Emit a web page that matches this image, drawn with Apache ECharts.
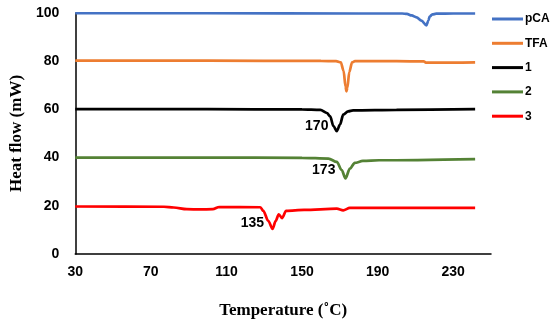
<!DOCTYPE html>
<html>
<head>
<meta charset="utf-8">
<script src="https://cdn.jsdelivr.net/npm/echarts@6/dist/echarts.min.js"></script>
<style>html,body{margin:0;padding:0;background:#fff;}#c{width:550px;height:324px;}</style>
</head>
<body>
<div id="c"></div>
<script>
var seriesNames = ['pCA', 'TFA', '1', '2', '3'];
var colors = ['#4472C4', '#ED7D31', '#000000', '#548235', '#FF0000'];
var xTicks = [30, 70, 110, 150, 190, 230];
var yTicks = [0, 20, 40, 60, 80, 100];

var pcaT = [30, 100, 180, 203, 205.5, 208, 210.6, 213.2, 215.8, 216.9, 217.5, 219, 221, 230, 241.6];
var pcaV = [99.9, 99.9, 99.8, 99.8, 99.6, 99.0, 98.2, 96.8, 94.9, 97.0, 98.5, 99.4, 99.7, 99.8, 99.8];

var tfaT = [30, 100, 160, 168, 170.5, 172, 173, 173.5, 174, 175, 176.5, 178, 200, 214.5, 215.5, 230, 241.6];
var tfaV = [80.2, 80.2, 80.1, 80.0, 79.5, 76.0, 69.5, 67.5, 69.0, 75.5, 79.5, 80.0, 80.0, 79.9, 79.4, 79.4, 79.5];

var s1T = [30, 100, 150, 159.7, 163.2, 164.9, 166.6, 168.4, 170.1, 171.8, 174.4, 177, 200, 241.6];
var s1V = [60.1, 60.1, 60.0, 59.8, 58.5, 57.1, 53.1, 51.0, 53.7, 57.8, 59.2, 59.6, 59.8, 60.1];

var s2T = [30, 100, 150, 164, 168.4, 171, 173, 175.3, 177.9, 182.2, 190.8, 241.6];
var s2V = [40.0, 40.0, 39.9, 39.6, 38.2, 34.8, 31.4, 35.4, 37.8, 38.6, 38.9, 39.4];

var s3T = [30, 76.9, 82.1, 89, 96, 102.8, 106.2, 128, 129.5, 132.1, 134.4, 136.1, 137.7, 139.4, 141.6, 151.1, 168.4, 171.8, 175.3, 200, 241.6];
var s3V = [19.7, 19.6, 19.3, 18.6, 18.5, 18.6, 19.5, 19.4, 17.9, 13.8, 10.4, 13.8, 16.5, 14.9, 17.9, 18.3, 18.8, 18.1, 19.1, 19.1, 19.1];

var peakLabels = ['', '', '170', '173', '135'];
var peakLabelT = [null, null, 157.8, 161.5, 123.7];
var peakLabelV = [null, null, 53.2, 34.9, 12.6];

function zip(t, v) { return t.map(function (x, i) { return [x, v[i]]; }); }
var allT = [pcaT, tfaT, s1T, s2T, s3T];
var allV = [pcaV, tfaV, s1V, s2V, s3V];

var series = seriesNames.map(function (name, i) {
  var s = {
    name: name,
    type: 'line',
    data: zip(allT[i], allV[i]),
    showSymbol: false,
    smooth: 0.3,
    smoothMonotone: 'x',
    lineStyle: { color: colors[i], width: 2.7 },
    itemStyle: { color: colors[i] },
    z: 10 - i
  };
  if (peakLabels[i]) {
    s.markPoint = {
      symbol: 'circle',
      symbolSize: 1,
      itemStyle: { color: 'rgba(0,0,0,0)' },
      label: {
        show: true, position: 'inside', formatter: peakLabels[i],
        color: '#000', fontFamily: 'Liberation Sans, Arial, sans-serif',
        fontWeight: 'bold', fontSize: 14
      },
      data: [{ coord: [peakLabelT[i], peakLabelV[i]] }]
    };
  }
  return s;
});

var chart = echarts.init(document.getElementById('c'), null, { renderer: 'canvas' });
chart.setOption({
  animation: false,
  backgroundColor: '#ffffff',
  grid: { left: 66, right: 59, top: 13, bottom: 65, containLabel: false },
  legend: {
    orient: 'vertical',
    left: 487, top: 7,
    itemWidth: 31, itemHeight: 3, itemGap: 10.3,
    icon: 'rect',
    data: seriesNames,
    textStyle: {
      fontFamily: 'Liberation Sans, Arial, sans-serif', fontWeight: 'bold',
      fontSize: 12, color: '#000', lineHeight: 14, padding: [0, 0, 0, -3]
    }
  },
  xAxis: {
    type: 'value', min: 30, max: 250, interval: 40,
    name: 'Temperature (˚C)', nameLocation: 'middle', nameGap: 48,
    nameTextStyle: { fontFamily: 'Liberation Serif, Times New Roman, serif', fontWeight: 'bold', fontSize: 17, color: '#000' },
    axisLine: { show: true, lineStyle: { color: '#000', width: 1.5 } },
    axisTick: { show: false },
    splitLine: { show: false },
    axisLabel: {
      margin: 11, showMaxLabel: false,
      color: '#000', fontFamily: 'Liberation Sans, Arial, sans-serif', fontWeight: 'bold', fontSize: 14,
      formatter: function (v) { return xTicks.indexOf(v) >= 0 ? String(v) : ''; }
    }
  },
  yAxis: {
    type: 'value', min: 0, max: 100, interval: 20,
    name: 'Heat flow (mW)', nameLocation: 'middle', nameGap: 50,
    nameTextStyle: { fontFamily: 'Liberation Serif, Times New Roman, serif', fontWeight: 'bold', fontSize: 17, color: '#000' },
    axisLine: { show: true, lineStyle: { color: '#000', width: 1.5 } },
    axisTick: { show: false },
    splitLine: { show: false },
    axisLabel: {
      margin: 16,
      color: '#000', fontFamily: 'Liberation Sans, Arial, sans-serif', fontWeight: 'bold', fontSize: 14,
      formatter: function (v) { return yTicks.indexOf(v) >= 0 ? String(v) : ''; }
    }
  },
  series: series
});
</script>
</body>
</html>
